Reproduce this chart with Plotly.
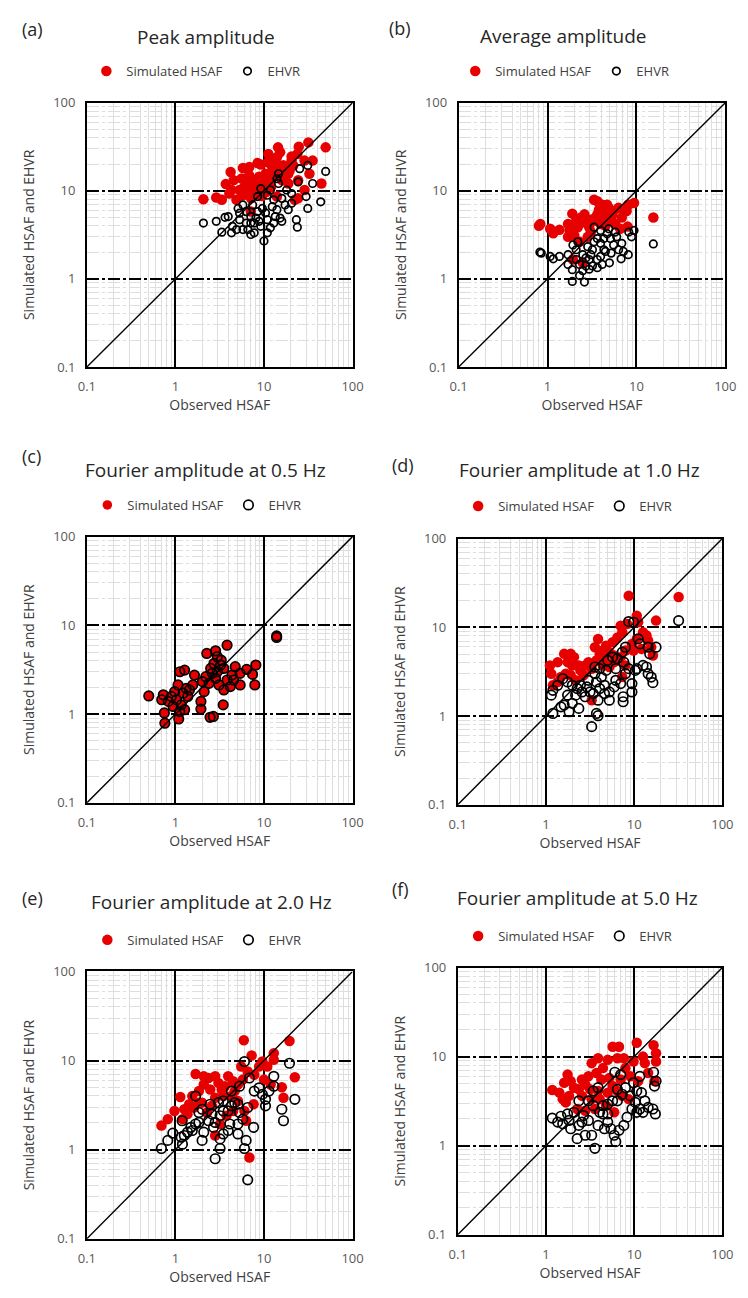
import plotly.graph_objects as go

# ---------------- data (observed HSAF, simulated value) ----------------
tick_vals = [0.1, 1, 10, 100]
tick_text = ["0.1", "1", "10", "100"]
minor_vals = [0.2, 0.3, 0.4, 0.5, 0.6, 0.7, 0.8, 0.9,
              2, 3, 4, 5, 6, 7, 8, 9,
              20, 30, 40, 50, 60, 70, 80, 90]
one_to_one = [0.1, 100]

a_sim = [(2.07, 8.0), (2.89, 8.4), (3.34, 7.9), (3.70, 11.9), (4.2, 16.3), (4.56, 13.2), (4.06, 9.3),
         (5.78, 18.1), (6.83, 18.6), (8.45, 20.6), (9.2, 19.9), (11.2, 26.2), (14.4, 31.1), (15.2, 27.4),
         (14.0, 24.0), (24.7, 31.6), (31.7, 35.4), (49.7, 31.1), (23.8, 26.2), (20.5, 22.0), (28.7, 22.0),
         (35.4, 22.0), (32.6, 15.6), (44.5, 12.1), (28.7, 10.2), (22.3, 7.9), (18.8, 12.1), (17.3, 17.0),
         (12.4, 18.6), (12.4, 14.4), (10.4, 15.6), (8.8, 14.4), (7.76, 13.2), (6.84, 12.1), (6.0, 11.1),
         (5.3, 10.2), (5.78, 8.9), (6.56, 9.3), (7.13, 8.2), (4.89, 7.9), (7.76, 11.1), (9.6, 12.6),
         (11.4, 12.1), (13.4, 15.6), (14.6, 18.6), (15.9, 13.2), (18.8, 15.6), (21.4, 19.4), (24.3, 13.2),
         (8.8, 10.6), (10.6, 9.7), (7.1, 5.8), (14.0, 8.6), (24.3, 8.2), (11.8, 23.0), (4.3, 10.2),
         (6.2, 9.8), (7.5, 10.5), (9.0, 11.5), (10.0, 13.5), (12.0, 11.0), (13.0, 17.5), (16.5, 19.5),
         (19.5, 17.0), (8.0, 9.0), (9.5, 8.7), (5.6, 13.8), (6.8, 15.0), (11.0, 21.0), (13.5, 20.5),
         (17.0, 14.0), (20.5, 24.5)]
a_ehvr = [(2.07, 4.3), (2.89, 4.5), (3.63, 5.0), (3.95, 5.1), (3.34, 3.39), (4.3, 3.33), (4.4, 3.95),
          (4.9, 3.63), (5.78, 3.63), (6.56, 3.63), (7.1, 3.19), (7.76, 3.33), (10.0, 2.69), (5.3, 5.57),
          (5.78, 6.9), (6.3, 5.8), (7.1, 5.1), (8.1, 4.9), (8.8, 4.5), (9.2, 3.95), (7.76, 4.3), (10.9, 4.7),
          (11.8, 3.8), (10.4, 5.6), (12.4, 6.6), (14.0, 6.1), (15.2, 4.9), (15.9, 4.5), (17.3, 6.9),
          (20.5, 7.2), (23.2, 4.7), (23.8, 3.86), (31.2, 6.3), (43.7, 7.5), (29.9, 8.6), (35.4, 12.1),
          (49.7, 16.6), (31.2, 19.4), (25.3, 17.8), (24.3, 12.6), (20.5, 9.3), (18.0, 10.2), (14.6, 12.1),
          (14.6, 15.6), (14.0, 13.7), (11.8, 10.2), (10.9, 8.9), (9.2, 10.6), (8.45, 8.6), (7.45, 6.9),
          (12.9, 7.9), (15.9, 8.2), (13.4, 5.1), (9.6, 6.3), (8.45, 5.8), (10.9, 3.33), (6.3, 4.3),
          (5.3, 4.7), (5.1, 6.3), (7.1, 4.3), (12.9, 4.3), (18.8, 6.1)]

b_sim = [(0.80, 4.0), (0.83, 4.2), (1.07, 3.7), (1.16, 3.3), (1.36, 3.6), (1.70, 4.2), (1.77, 3.54),
         (1.9, 5.5), (1.70, 3.0), (2.0, 3.1), (2.38, 4.97), (2.6, 4.4), (2.94, 3.86), (3.2, 4.76),
         (3.34, 7.9), (3.63, 7.6), (3.79, 6.1), (4.12, 6.95), (4.48, 5.6), (4.88, 6.4), (5.54, 5.9),
         (6.29, 6.4), (7.13, 6.1), (8.1, 6.95), (9.4, 7.25), (7.76, 5.9), (6.84, 4.97), (7.96, 3.92),
         (6.56, 3.7), (5.78, 4.2), (5.1, 4.56), (4.48, 4.0), (3.95, 4.2), (3.48, 4.56), (3.07, 3.4),
         (3.63, 5.4), (2.6, 5.4), (2.1, 4.56), (2.19, 3.86), (1.93, 1.66), (2.49, 1.52), (15.5, 4.97),
         (4.68, 6.95), (5.3, 5.2), (4.3, 4.97), (2.83, 3.0), (2.29, 2.64)]
b_ehvr = [(0.82, 2.01), (0.85, 1.96), (1.07, 1.8), (1.16, 1.69), (1.36, 1.8), (1.70, 1.88), (1.7, 1.46),
          (1.9, 1.27), (1.9, 0.935), (2.6, 0.92), (2.29, 1.09), (2.49, 1.24), (2.94, 1.29), (3.2, 1.4),
          (3.63, 1.34), (4.12, 1.46), (4.97, 1.52), (3.63, 1.66), (2.94, 1.66), (2.49, 1.88), (2.1, 2.14),
          (1.93, 2.43), (2.19, 2.64), (2.83, 2.32), (3.2, 2.14), (3.34, 3.86), (3.63, 2.87), (3.95, 2.53),
          (4.3, 2.87), (4.68, 3.26), (5.1, 2.87), (4.48, 2.05), (3.95, 1.8), (5.54, 2.43), (6.0, 3.0),
          (6.84, 2.53), (7.13, 2.05), (8.1, 1.88), (6.73, 1.69), (8.8, 3.0), (9.4, 3.54), (8.2, 3.4),
          (15.5, 2.49), (5.78, 3.4), (4.88, 3.7), (3.95, 3.54), (3.34, 2.64), (3.07, 1.88), (2.7, 1.73),
          (4.3, 2.14), (5.2, 1.96), (6.3, 2.14), (2.29, 1.46), (2.1, 1.66), (2.7, 1.4)]

c_sim = [(0.50, 1.60), (13.9, 7.6), (13.9, 7.3), (2.26, 4.82), (2.84, 5.16), (3.83, 5.97), (0.75, 1.03),
         (0.76, 0.79), (1.09, 0.88), (2.46, 0.92), (2.68, 0.94), (1.94, 1.39), (1.94, 1.14), (3.46, 1.27),
         (7.88, 2.13), (7.43, 2.8), (8.09, 3.57), (6.37, 3.19), (5.38, 2.13), (4.73, 3.42), (4.35, 2.75),
         (3.83, 2.42), (3.52, 3.27), (3.29, 4.05), (2.97, 4.43), (2.72, 3.72), (2.5, 3.27), (2.2, 2.64),
         (2.4, 2.22), (2.84, 2.53), (3.1, 2.13), (3.52, 1.87), (4.17, 2.04), (2.97, 3.0), (2.02, 2.32),
         (1.64, 2.75), (1.27, 3.13), (1.12, 3.0), (1.57, 2.13), (1.32, 1.95), (1.07, 2.13), (0.98, 1.79),
         (0.90, 1.58), (0.83, 1.39), (0.70, 1.45), (0.73, 1.65), (1.03, 1.45), (1.16, 1.27), (1.27, 1.12),
         (1.38, 1.58), (1.22, 1.72), (1.44, 1.87), (0.94, 1.22), (1.12, 1.07), (2.11, 1.79), (5.38, 2.88),
         (4.54, 2.42), (2.61, 2.88), (3.23, 3.57)]
c_ehvr = list(c_sim)

d_sim = [(8.67, 22.6), (31.9, 22.0), (17.7, 11.9), (10.7, 13.5), (11.1, 11.4), (8.3, 10.9), (7.03, 10.4),
         (7.33, 8.8), (6.46, 7.7), (5.7, 6.8), (4.8, 6.2), (3.9, 7.4), (3.59, 5.97), (4.42, 5.48),
         (5.23, 5.25), (5.94, 4.82), (7.03, 4.61), (7.96, 5.48), (9.43, 6.5), (10.7, 7.4), (12.6, 8.8),
         (13.8, 8.07), (14.4, 7.1), (15.6, 5.97), (16.3, 4.82), (12.1, 5.71), (9.84, 5.48), (7.96, 3.72),
         (7.33, 2.75), (3.3, 1.51), (1.11, 3.72), (1.15, 3.0), (1.2, 2.22), (1.36, 4.05), (1.61, 5.02),
         (1.91, 5.02), (2.08, 4.61), (2.36, 3.72), (2.79, 3.72), (1.99, 3.72), (1.76, 4.05), (1.48, 2.75),
         (1.68, 3.0), (1.91, 2.88), (2.17, 2.53), (2.67, 2.88), (3.3, 3.42), (3.74, 4.24), (4.42, 3.72),
         (5.23, 3.57), (5.94, 4.05), (3.03, 4.05), (2.46, 3.27), (1.36, 2.42), (4.61, 4.43), (4.07, 5.02)]
d_ehvr = [(31.9, 11.9), (9.84, 11.4), (8.67, 11.6), (11.1, 7.4), (11.6, 6.5), (15.0, 5.02), (17.7, 5.97),
          (14.4, 5.97), (13.8, 3.57), (14.4, 3.0), (15.6, 2.75), (16.3, 2.38), (12.6, 3.72), (10.7, 3.42),
          (10.3, 3.27), (8.67, 3.42), (7.96, 5.97), (7.33, 5.25), (7.64, 4.05), (6.46, 4.43), (5.7, 4.61),
          (5.02, 4.24), (7.03, 2.32), (7.5, 1.65), (7.5, 1.45), (9.43, 1.87), (9.43, 2.32), (7.96, 3.0),
          (6.19, 2.53), (5.94, 2.13), (5.23, 1.87), (4.61, 1.79), (5.23, 1.51), (4.61, 2.22), (4.07, 2.04),
          (3.74, 2.42), (4.25, 2.75), (3.59, 3.57), (4.07, 3.42), (4.81, 3.27), (3.74, 1.07), (3.9, 1.01),
          (3.3, 0.76), (3.9, 1.51), (3.44, 1.79), (2.91, 2.13), (2.56, 1.87), (2.26, 2.04), (1.99, 2.22),
          (1.76, 2.42), (1.55, 2.64), (1.36, 2.22), (1.2, 1.95), (1.15, 1.72), (1.2, 1.07), (1.48, 1.27),
          (1.61, 1.33), (1.83, 1.12), (1.99, 1.39), (2.36, 1.22), (1.76, 1.72), (2.17, 1.72), (2.79, 1.65),
          (3.03, 2.53), (3.59, 3.0), (6.19, 3.42), (2.46, 2.22), (3.16, 1.87)]

e_sim = [(0.695, 1.86), (0.82, 2.2), (0.975, 2.72), (1.135, 3.89), (1.69, 7.06), (2.09, 5.38), (1.84, 4.54),
         (1.55, 3.99), (1.43, 3.23), (1.26, 2.84), (1.62, 2.97), (1.84, 3.37), (2.37, 6.37), (2.81, 6.65),
         (3.06, 5.61), (3.33, 4.73), (3.94, 6.65), (4.48, 5.86), (5.08, 5.38), (5.77, 6.11), (5.92, 16.9),
         (7.25, 11.4), (5.53, 8.58), (6.55, 7.55), (7.76, 6.93), (8.81, 8.58), (9.59, 9.75), (10.9, 8.58),
         (12.9, 12.1), (12.9, 10.2), (19.4, 16.6), (22.3, 6.49), (15.9, 5.02), (16.6, 3.83), (11.9, 5.38),
         (10.0, 6.11), (7.63, 3.23), (6.84, 0.815), (2.81, 1.44), (3.78, 2.4), (4.48, 2.72), (3.19, 1.94),
         (2.58, 3.1), (2.27, 2.61), (2.81, 3.83), (3.47, 3.99), (4.29, 3.99), (5.08, 3.52), (6.02, 2.72),
         (6.28, 2.11), (1.2, 2.2), (1.37, 2.51), (2.0, 3.37), (2.47, 4.73), (4.67, 4.54), (3.62, 5.15),
         (2.09, 6.65)]
e_ehvr = [(0.695, 1.03), (0.82, 1.27), (0.935, 1.53), (1.2, 1.15), (1.16, 1.38), (1.37, 1.57), (1.55, 1.64),
          (1.69, 1.94), (1.84, 2.02), (2.0, 1.27), (2.09, 1.57), (2.37, 2.11), (2.58, 2.51), (2.81, 2.02),
          (3.19, 2.4), (3.47, 2.72), (3.94, 2.72), (4.29, 3.1), (4.67, 3.37), (5.08, 3.23), (4.11, 1.94),
          (3.94, 1.64), (3.47, 1.5), (3.19, 1.32), (3.19, 1.03), (2.81, 0.79), (5.08, 1.5), (6.28, 1.27),
          (6.02, 1.03), (7.63, 1.78), (6.55, 0.458), (6.02, 9.75), (6.84, 6.37), (8.81, 4.94), (9.59, 4.17),
          (10.4, 3.67), (10.4, 3.1), (11.4, 4.54), (12.9, 6.65), (12.9, 5.15), (15.9, 2.84), (16.6, 2.11),
          (19.4, 9.33), (22.3, 3.67), (7.76, 4.54), (5.3, 5.15), (4.29, 4.54), (3.47, 3.52), (3.06, 3.37),
          (2.47, 3.23), (2.0, 2.84), (1.84, 2.61), (1.69, 3.99), (1.19, 2.11), (1.49, 1.78), (1.26, 1.44),
          (5.3, 2.61), (5.77, 2.2), (6.55, 2.97), (5.08, 1.94), (2.69, 1.78)]

f_sim = [(1.18, 4.22), (1.42, 3.94), (1.55, 3.33), (1.61, 5.08), (1.76, 6.28), (1.91, 5.3), (2.08, 4.48),
         (2.36, 4.29), (2.56, 3.62), (2.79, 4.87), (3.16, 4.29), (3.3, 3.33), (3.3, 8.44), (3.9, 9.59),
         (4.43, 7.43), (5.02, 9.19), (5.7, 12.9), (6.73, 12.9), (6.46, 9.59), (7.64, 9.59), (7.96, 7.43),
         (9.84, 8.81), (10.7, 14.3), (12.6, 10.0), (13.2, 8.44), (14.4, 6.55), (16.6, 13.4), (17.7, 10.9),
         (17.7, 8.81), (17.0, 5.3), (11.1, 5.3), (9.04, 6.01), (8.67, 3.33), (6.46, 4.11), (5.7, 4.67),
         (5.23, 5.77), (4.25, 5.53), (3.74, 6.55), (5.94, 2.37), (4.81, 2.81), (4.07, 3.33), (1.68, 3.06),
         (2.26, 2.58), (2.79, 2.47), (3.59, 2.58), (5.02, 3.94), (7.03, 5.53), (7.33, 3.62), (3.9, 4.11),
         (1.83, 3.62), (2.56, 5.53), (3.03, 6.01)]
f_ehvr = [(1.18, 2.04), (1.48, 2.14), (1.55, 1.76), (1.83, 1.92), (2.08, 2.37), (1.91, 1.55), (2.36, 1.69),
          (2.26, 1.2), (2.79, 1.31), (3.3, 1.31), (3.59, 0.935), (2.67, 2.18), (3.03, 1.92), (3.44, 2.81),
          (3.44, 4.11), (3.9, 4.48), (4.43, 2.81), (4.43, 2.27), (5.02, 1.84), (5.46, 1.55), (5.94, 1.31),
          (6.19, 1.11), (6.73, 1.49), (7.64, 1.69), (8.3, 2.09), (9.43, 2.58), (10.7, 2.37), (11.6, 2.58),
          (10.3, 3.06), (9.04, 3.62), (7.96, 4.48), (7.33, 3.78), (6.46, 3.19), (6.04, 6.67), (7.03, 6.28),
          (6.46, 4.29), (5.7, 3.19), (5.02, 2.27), (4.07, 2.37), (9.84, 5.08), (10.7, 4.11), (12.1, 3.94),
          (13.2, 3.19), (14.4, 2.69), (12.6, 2.37), (16.3, 2.58), (17.4, 2.27), (16.6, 6.67), (17.7, 5.3),
          (17.0, 4.67), (11.6, 6.01), (2.56, 1.84), (3.9, 1.69), (4.61, 1.55), (1.76, 2.27), (1.36, 1.84),
          (2.36, 3.19), (3.03, 3.19), (5.02, 2.93)]

panel_titles = ["Peak amplitude", "Average amplitude", "Fourier amplitude at 0.5 Hz",
                "Fourier amplitude at 1.0 Hz", "Fourier amplitude at 2.0 Hz", "Fourier amplitude at 5.0 Hz"]
panel_letters = ["(a)", "(b)", "(c)", "(d)", "(e)", "(f)"]
series_names = ["Simulated HSAF", "EHVR"]
x_title = "Observed HSAF"
y_title = "Simulated HSAF and EHVR"
sim_data = [a_sim, b_sim, c_sim, d_sim, e_sim, f_sim]
ehvr_data = [a_ehvr, b_ehvr, c_ehvr, d_ehvr, e_ehvr, f_ehvr]

# ---------------- layout geometry (pixels) ----------------
W, H = 748, 1298
boxes = [(80, 353, 95, 363), (462, 736, 95, 363), (80, 353, 535, 805),
         (461, 733, 537, 807), (80, 353, 976, 1247), (461, 733, 972, 1243)]
title_pos = [(202, 28), (570, 27), (202, 467), (586, 467), (208, 906), (584, 902)]
letter_pos = [(24, 20), (402, 19), (23, 453), (405, 462), (24, 901), (402, 892)]
legend_pos = [(192, 63), (571, 63), (193, 503), (574, 504), (193, 944), (574, 940)]
ehvr_size = [7.5, 7.5, 9.5, 9.5, 9.5, 9.5]
sim_size = [10.5, 10.5, 9.5, 10.5, 10.5, 10.5]

RED = "#E60000"
FONT = "Open Sans, Liberation Sans, sans-serif"

def fx(px):
    return px / W

def fy(py):
    return 1 - py / H

fig = go.Figure()
layout = dict(width=W, height=H, margin=dict(l=0, r=0, t=0, b=0),
              paper_bgcolor="white", plot_bgcolor="white",
              font=dict(family=FONT, color="#404040"), annotations=[])

for i in range(6):
    sfx = "" if i == 0 else str(i + 1)
    xa, ya, lg = "x" + sfx, "y" + sfx, "legend" + sfx
    sx, sy = zip(*sim_data[i])
    ex, ey = zip(*ehvr_data[i])
    fig.add_trace(go.Scatter(x=sx, y=sy, mode="markers", name=series_names[0],
                             marker=dict(color=RED, size=sim_size[i], line=dict(width=0)),
                             xaxis=xa, yaxis=ya, legend=lg))
    fig.add_trace(go.Scatter(x=ex, y=ey, mode="markers", name=series_names[1],
                             marker=dict(color="rgba(0,0,0,0)", size=ehvr_size[i],
                                         line=dict(color="black", width=1.7)),
                             xaxis=xa, yaxis=ya, legend=lg))
    fig.add_trace(go.Scatter(x=one_to_one, y=one_to_one, mode="lines",
                             line=dict(color="black", width=1.4), showlegend=False,
                             hoverinfo="skip", xaxis=xa, yaxis=ya))
    l, r, t, b = boxes[i]
    common = dict(type="log", range=[-1, 2], tickmode="array", tickvals=tick_vals,
                  ticktext=tick_text, showline=True, linecolor="black", linewidth=1.6,
                  mirror=True, ticks="", showgrid=True, gridcolor="black", gridwidth=1.8,
                  zeroline=False, tickfont=dict(size=13, color="#595959", family=FONT),
                  ticklabelstandoff=7,
                  minor=dict(tickvals=minor_vals, showgrid=True, gridcolor="#dedede",
                             gridwidth=1, ticks=""))
    layout["xaxis" + sfx] = dict(common, domain=[fx(l), fx(r)], anchor=ya,
                                 title=dict(text=x_title, standoff=5,
                                            font=dict(size=14, color="#404040")))
    layout["yaxis" + sfx] = dict(common, domain=[fy(b), fy(t)], anchor=xa,
                                 griddash="12px,3px,3px,3px",
                                 title=dict(text=y_title, standoff=15,
                                            font=dict(size=14, color="#404040")))
    lx, ly = legend_pos[i]
    layout[lg] = dict(orientation="h", x=fx(lx), y=fy(ly), xanchor="center", yanchor="middle",
                      font=dict(size=13, color="#404040"), bgcolor="rgba(0,0,0,0)",
                      itemwidth=30, tracegroupgap=0)
    tx, ty = title_pos[i]
    layout["annotations"].append(dict(text=panel_titles[i], x=fx(tx), y=fy(ty), xref="paper",
                                      yref="paper", showarrow=False, xanchor="center",
                                      yanchor="middle", font=dict(size=19, color="#262626")))
    px_, py_ = letter_pos[i]
    layout["annotations"].append(dict(text=panel_letters[i], x=fx(px_), y=fy(py_), xref="paper",
                                      yref="paper", showarrow=False, xanchor="center",
                                      yanchor="middle", font=dict(size=18, color="#262626")))

fig.update_layout(**layout)
fig.write_html("out.html")
